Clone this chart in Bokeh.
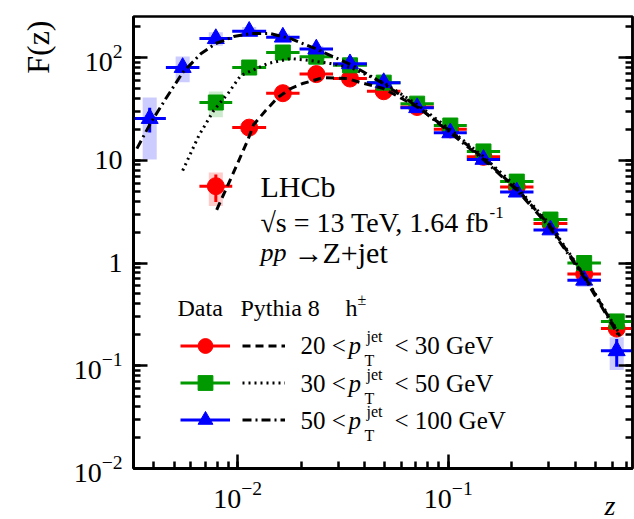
import math
from bokeh.plotting import figure
from bokeh.models import (Label, Legend, LegendItem, LogAxis, CustomJSTickFormatter,
                          LogTickFormatter, ColumnDataSource, Title)
from bokeh.core.properties import value
from bokeh.embed import file_html
from bokeh.resources import INLINE

NAN = float("nan")

# ---------------- data ----------------
z_edges = [0.0032, 0.00456, 0.00658, 0.00942, 0.01365, 0.01967, 0.02836, 0.0411,
           0.0593, 0.0854, 0.1225, 0.1763, 0.254, 0.368, 0.531, 0.75]

red_F    = [NAN, NAN, 5.6, 20.8, 45.0, 69.0, 62.5, 47.0, 33.0, 20.0, 10.8, 5.5, 2.42, 0.78, 0.23]
red_stat = [NAN, NAN, 0.30, 0.06, 0.04, 0.03, 0.03, 0.03, 0.03, 0.03, 0.03, 0.04, 0.05, 0.07, 0.12]
red_syst = [NAN, NAN, 0.36, 0.14, 0.09, 0.07, 0.06, 0.06, 0.06, 0.06, 0.06, 0.07, 0.08, 0.10, 0.15]

green_F    = [NAN, NAN, 36.5, 80.0, 112.0, 102.0, 84.0, 57.0, 35.6, 21.8, 12.2, 6.2, 2.65, 1.0, 0.27]
green_stat = [NAN, NAN, 0.12, 0.05, 0.04, 0.03, 0.03, 0.03, 0.03, 0.03, 0.03, 0.04, 0.05, 0.07, 0.10]
green_syst = [NAN, NAN, 0.28, 0.13, 0.09, 0.07, 0.06, 0.06, 0.06, 0.06, 0.06, 0.07, 0.08, 0.10, 0.14]

blue_F    = [25.5, 80.0, 153.0, 180.0, 158.0, 121.0, 87.0, 57.0, 32.5, 18.5, 10.2, 4.9, 2.1, 0.68, 0.14]
blue_stat = [0.27, 0.10, 0.06, 0.04, 0.04, 0.03, 0.03, 0.03, 0.03, 0.03, 0.04, 0.05, 0.06, 0.09, 0.30]
blue_syst = [0.60, 0.28, 0.15, 0.10, 0.08, 0.07, 0.06, 0.06, 0.06, 0.06, 0.07, 0.08, 0.10, 0.14, 0.35]

# Pythia 8 predictions
red_curve_z = [0.00795, 0.00947, 0.01115, 0.01191, 0.01358, 0.01549, 0.01784, 0.02033,
               0.02558, 0.0332, 0.0383, 0.0492, 0.0713, 0.1021, 0.1466, 0.2125, 0.3042,
               0.4457, 0.653]
red_curve_F = [3.3, 7.3, 15.6, 22.3, 30.5, 40.8, 49.9, 55.9, 63.8, 62.5, 57.1, 50.0,
               33.0, 19.3, 10.5, 5.2, 2.3, 0.73, 0.195]

green_curve_z = [0.00548, 0.00654, 0.00769, 0.00906, 0.01033, 0.01386, 0.01782, 0.0222,
                 0.0276, 0.0344, 0.0492, 0.0713, 0.1021, 0.1466, 0.2125, 0.3042, 0.4457, 0.653]
green_curve_F = [7.95, 17.4, 30.5, 45.6, 66.8, 87.4, 97.8, 93.5, 87.4, 80.0, 57.1, 34.9,
                 19.9, 10.9, 5.43, 2.37, 0.74, 0.201]

blue_curve_z = [0.00332, 0.00387, 0.00456, 0.00548, 0.00668, 0.00787, 0.00957, 0.01153,
                0.01433, 0.01782, 0.02344, 0.0344, 0.0492, 0.0713, 0.1021, 0.1466, 0.2125,
                0.3042, 0.4457, 0.653]
blue_curve_F = [13.0, 23.3, 39.9, 71.5, 109.0, 137.0, 160.0, 171.0, 171.0, 153.0, 122.0,
                85.5, 55.9, 33.4, 18.6, 10.2, 5.08, 2.21, 0.706, 0.188]

pt_lo = ["20", "30", "50"]
pt_hi = ["30", "50", "100"]

# ---------------- styling ----------------
FONT = "Liberation Serif"
RED, GREEN, BLUE = "#ff0000", "#009900", "#0000ff"

series = [
    dict(F=red_F, stat=red_stat, syst=red_syst, color=RED, marker="circle", size=17,
         cz=red_curve_z, cF=red_curve_F, dash="8 5"),
    dict(F=green_F, stat=green_stat, syst=green_syst, color=GREEN, marker="square", size=15,
         cz=green_curve_z, cF=green_curve_F, dash="2 4"),
    dict(F=blue_F, stat=blue_stat, syst=blue_syst, color=BLUE, marker="triangle", size=17,
         cz=blue_curve_z, cF=blue_curve_F, dash="9 4 2 4"),
]


def make_source(F, stat, syst):
    d = {k: [] for k in ("z", "lo", "hi", "F", "s0", "s1", "b0", "b1", "bl", "br")}
    for i, v in enumerate(F):
        if v != v:
            continue
        a, b = z_edges[i], z_edges[i + 1]
        c = math.sqrt(a * b)
        d["z"].append(c)
        d["lo"].append(a)
        d["hi"].append(b)
        d["F"].append(v)
        d["s0"].append(v * (1 - stat[i]))
        d["s1"].append(v * (1 + stat[i]))
        d["b0"].append(v * (1 - syst[i]))
        d["b1"].append(v * (1 + syst[i]))
        d["bl"].append(c / 1.08)
        d["br"].append(c * 1.08)
    return ColumnDataSource(d)


p = figure(width=634, height=519, x_axis_type="log", y_axis_type="log",
           x_range=(0.0032, 0.75), y_range=(0.01, 251),
           output_backend="svg", toolbar_location=None,
           min_border_left=133, min_border_right=2, min_border_top=16, min_border_bottom=51,
           background_fill_color="white", border_fill_color="white")
p.xgrid.visible = False
p.ygrid.visible = False
p.outline_line_color = "black"
p.outline_line_width = 2.5
p.outline_line_alpha = 1.0

xax, yax = p.xaxis[0], p.yaxis[0]
for ax in (xax, yax):
    ax.formatter = LogTickFormatter()
    ax.major_tick_in = 14
    ax.major_tick_out = 0
    ax.minor_tick_in = 7
    ax.minor_tick_out = 0
    ax.axis_line_width = 3
    ax.major_tick_line_width = 2.5
    ax.minor_tick_line_width = 2.5
    ax.major_tick_line_color = "black"
    ax.minor_tick_line_color = "black"
    ax.axis_line_color = "black"
    ax.major_label_text_font = FONT
    ax.major_label_text_font_size = "28px"
    ax.major_label_text_color = "black"

yax.major_label_overrides = {10: "10", 1: "1"}
yax.major_label_standoff = 11
xax.major_label_standoff = 13

# axis titles as side-panel titles (top of the y axis, right end of the x axis)
p.add_layout(Title(text="F(z)", align="right", vertical_align="bottom", offset=4,
                   standoff=30, text_font=FONT, text_font_size="32px",
                   text_font_style="normal", text_color="black"), "left")
p.add_layout(Title(text="z", align="right", vertical_align="top", offset=17,
                   standoff=-42, text_font=FONT, text_font_size="28px",
                   text_font_style="italic", text_color="black"), "below")

ra = LogAxis(ticker=yax.ticker, formatter=CustomJSTickFormatter(code="return ''"),
             major_tick_in=14, major_tick_out=0, minor_tick_in=7, minor_tick_out=0,
             axis_line_width=2.5, major_tick_line_width=2.5, minor_tick_line_width=2.5,
             major_label_standoff=0)
p.add_layout(ra, "right")

sources = [make_source(s["F"], s["stat"], s["syst"]) for s in series]

# systematic boxes
for s, src in zip(series, sources):
    p.quad(left="bl", right="br", bottom="b0", top="b1", source=src,
           fill_color=s["color"], fill_alpha=0.2, line_color=None)

hbar_rs, marker_rs, curve_rs = [], [], []
for s, src in zip(series, sources):
    hb = p.segment(x0="lo", x1="hi", y0="F", y1="F", source=src,
                   line_color=s["color"], line_width=3)
    p.segment(x0="z", x1="z", y0="s0", y1="s1", source=src,
              line_color=s["color"], line_width=3)
    mk = p.scatter(x="z", y="F", source=src, marker=s["marker"], size=s["size"],
                   fill_color=s["color"], line_color=s["color"])
    hbar_rs.append(hb)
    marker_rs.append(mk)

for s in series:
    cr = p.line(s["cz"], s["cF"], line_color="black", line_width=3, line_dash=s["dash"])
    curve_rs.append(cr)

# legends (glyph columns only; texts are drawn as labels)
leg_common = dict(spacing=0, padding=0, margin=0, background_fill_alpha=0,
                  border_line_alpha=0, label_width=0, label_standoff=0, label_height=37,
                  label_text_font_size="1px", glyph_height=37)
leg1 = Legend(items=[LegendItem(label=value(""), renderers=[h, m])
                     for h, m in zip(hbar_rs, marker_rs)],
              location=(47, 30), glyph_width=50, **leg_common)
leg2 = Legend(items=[LegendItem(label=value(""), renderers=[c]) for c in curve_rs],
              location=(109, 30), glyph_width=43, **leg_common)
p.add_layout(leg1, "center")
p.add_layout(leg2, "center")


def T(text, x, y, size, align="left", baseline="middle", style="normal"):
    p.add_layout(Label(x=x, y=y, x_units="canvas", y_units="canvas", text=text,
                       text_font=FONT, text_font_size=f"{size}px", text_align=align,
                       text_baseline=baseline, text_font_style=style,
                       text_color="black"))


# experiment labels
T("LHCb", 260, 186, 30)
T("\u221as = 13 TeV, 1.64 fb", 260, 222, 28)
T("-1", 489, 212, 17)
T("pp", 260, 252, 26, style="italic")
T("\u2192", 293, 252, 30)
T("Z+jet", 322, 252, 30)

# legend header
T("Data", 177, 307, 24)
T("Pythia 8", 240, 307, 24)
T("h", 345, 307, 24)
T("\u00b1", 357, 299, 16)

row_y = [345, 383, 420]
for lo, hi, ry in zip(pt_lo, pt_hi, row_y):
    T(f"{lo} <", 300, ry, 25)
    T("p", 348, ry, 25, style="italic")
    T("jet", 366, ry - 9, 16)
    T("T", 364, ry + 15, 16)
    T(f"< {hi} GeV", 394, ry, 25)

open("out.html", "w").write(file_html(p, INLINE))
